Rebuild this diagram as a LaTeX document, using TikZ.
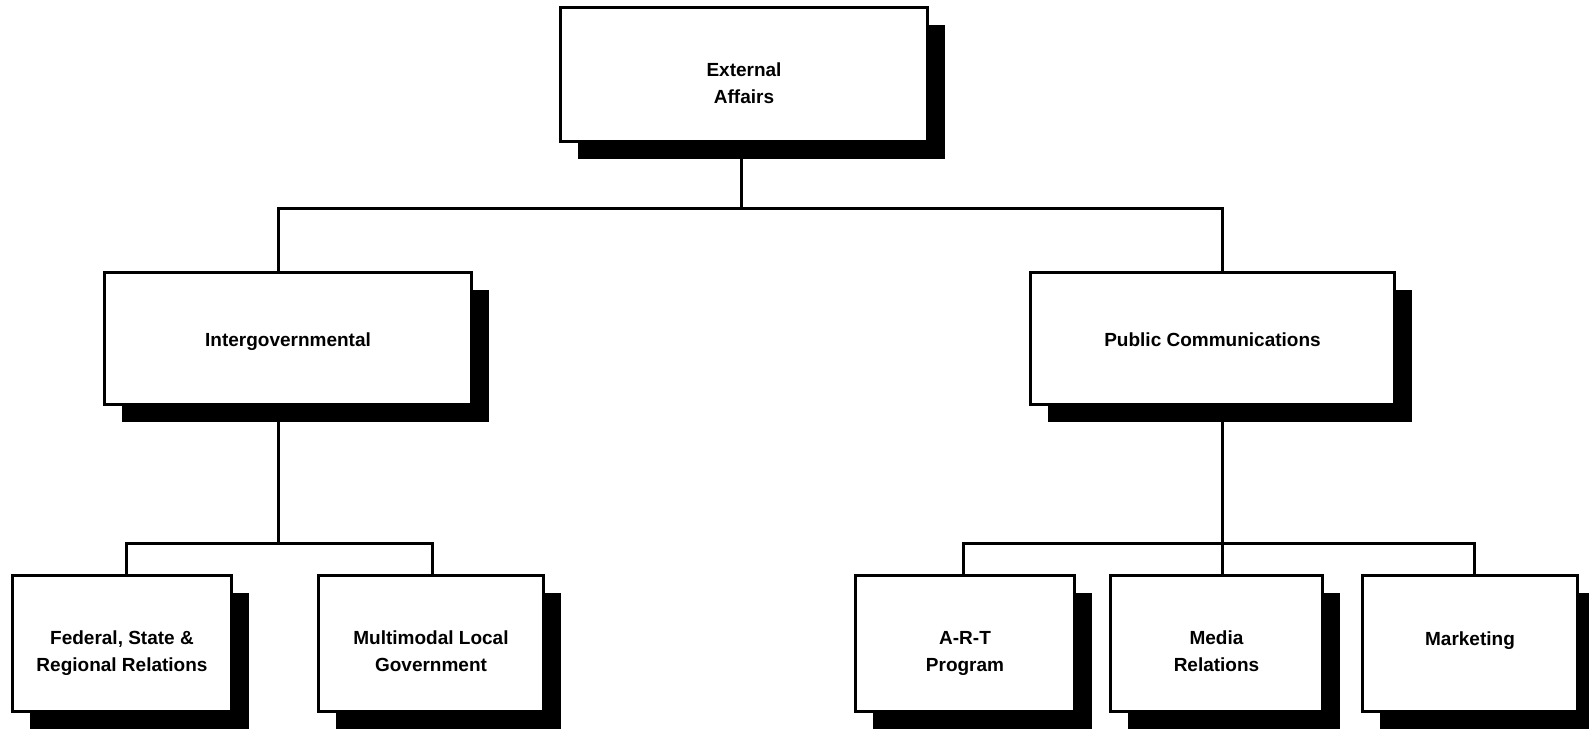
\documentclass[tikz,border=0pt]{standalone}
\usepackage{fontspec}
\setmainfont{Liberation Sans}
\usetikzlibrary{shadows,backgrounds}
\begin{document}
\begin{tikzpicture}[x=1pt,y=-1pt,
  orgbox/.style={draw=black, line width=3pt, fill=white, inner sep=0pt,
    drop shadow={shadow xshift=17pt, shadow yshift=-17pt, fill=black, opacity=1}},
  lbl/.style={font=\fontsize{19}{27}\selectfont\bfseries, align=center, inner sep=0pt},
  conn/.style={draw=black, line width=3pt}]
\useasboundingbox (0,0) rectangle (1589,728);
% boxes
\node[orgbox, minimum width=367pt, minimum height=134pt] (ext) at (744,74.5) {};
\node[orgbox, minimum width=367pt, minimum height=132pt] (ig) at (288,338.5) {};
\node[orgbox, minimum width=364pt, minimum height=132pt] (pc) at (1212.5,338.5) {};
\node[orgbox, minimum width=219pt, minimum height=136pt] (fed) at (122,643.5) {};
\node[orgbox, minimum width=225pt, minimum height=136pt] (mm) at (431,643.5) {};
\node[orgbox, minimum width=219pt, minimum height=136pt] (art) at (965,643.5) {};
\node[orgbox, minimum width=212pt, minimum height=136pt] (med) at (1216.5,643.5) {};
\node[orgbox, minimum width=215pt, minimum height=136pt] (mk) at (1470,643.5) {};
% texts
\node[lbl] (ext-t) at ([yshift=-9pt]ext.center) {External\\Affairs};
\node[lbl] (ig-t) at ([yshift=-3pt]ig.center) {Intergovernmental};
\node[lbl] (pc-t) at ([yshift=-1pt]pc.center) {Public Communications};
\node[lbl] (fed-t) at ([yshift=-10pt]fed.center) {Federal, State \&\\Regional Relations};
\node[lbl] (mm-t) at ([yshift=-8pt]mm.center) {Multimodal Local\\Government};
\node[lbl] (art-t) at ([yshift=-10pt]art.center) {A-R-T\\Program};
\node[lbl] (med-t) at ([yshift=-8pt]med.center) {Media\\Relations};
\node[lbl] (mk-t) at ([yshift=2.5pt]mk.center) {Marketing};
% junctions
\coordinate (jt) at (741,208);
\coordinate (jig) at (278,543);
\coordinate (jpc) at (1222,543);
\begin{scope}[on background layer]
\fill[white] (0,0) rectangle (1589,728);
\draw[conn] (ext.south -| jt) -- (jt);
\draw[conn] (ig.north -| jig) |- (jt) -| (pc.north -| jpc);
\draw[conn] (ig.south -| jig) -- (jig);
\draw[conn] ([xshift=4pt]fed.north) |- (jig) -| ([xshift=1pt]mm.north);
\draw[conn] (pc.south -| jpc) -- (med.north -| jpc);
\draw[conn] ([xshift=-2pt]art.north) |- (jpc) -| ([xshift=4pt]mk.north);
\end{scope}
\end{tikzpicture}
\end{document}
